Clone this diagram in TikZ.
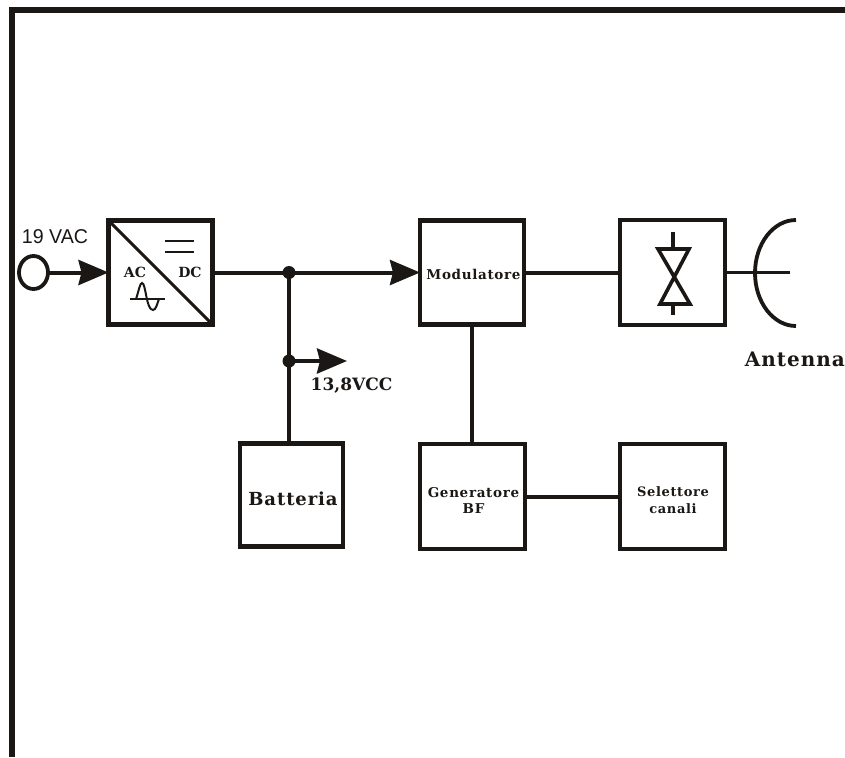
\documentclass[tikz,border=0pt]{standalone}
\usepackage{fontspec}
\setmainfont{DejaVu Serif}
\newfontfamily\wideserif[LetterSpace=5]{DejaVu Serif}
\newfontfamily\tightserif[LetterSpace=0]{DejaVu Serif}
\newfontfamily\plainsans{Liberation Sans}
\usetikzlibrary{arrows.meta,shapes.geometric}
\definecolor{ink}{HTML}{1A1714}
\tikzset{
  blockbox/.style={draw=ink,line width=4.4pt,fill=white,rectangle,inner sep=0pt,outer sep=0pt,minimum width=#1,minimum height=#1,align=center,text=ink},
  wire/.style={draw=ink,line width=4pt},
  arrowwire/.style={wire,-{Stealth[length=30pt,width=25pt,inset=3pt]}},
  dotnode/.style={circle,fill=ink,inner sep=0pt,minimum size=13pt},
  thinline/.style={draw=ink,line width=2pt},
  label/.style={text=ink,inner sep=0pt}
}
\begin{document}
\begin{tikzpicture}[x=1pt,y=-1pt]
\useasboundingbox (0,0) rectangle (845,757);
\fill[white] (0,0) rectangle (845,757);
% frame
\coordinate (frameTop) at (845,10);
\coordinate (frameCorner) at (12.3,10);
\coordinate (frameBottom) at (12.3,757);
\draw[ink,line width=6pt,line join=miter] (frameTop) -- (frameCorner) -- (frameBottom);
% boxes
\node[blockbox=104pt] (acdc) at (160.5,272.5) {};
\node[blockbox=104pt] (mod) at (472,272.5) {};
\node[blockbox=105pt] (filt) at (672.5,272.5) {};
\node[blockbox=103pt] (bat) at (291.5,495) {};
\node[blockbox=105pt] (gen) at (472.5,496.5) {};
\node[blockbox=105pt] (sel) at (672.5,496.5) {};
% box labels
\node[label,font=\wideserif\bfseries\fontsize{13.5}{13}\selectfont] (modl) at (473.5,274) {Modulatore};
\node[label,font=\wideserif\bfseries\fontsize{18}{18}\selectfont] (batl) at (293,498.5) {Batteria};
\node[label,align=center,font=\wideserif\bfseries\fontsize{13.5}{15.5}\selectfont] (genl) at (473.5,500.5) {Generatore\\BF};
\node[label,align=center,font=\wideserif\bfseries\fontsize{13}{17}\selectfont] (sell) at (673,500) {Selettore\\canali};
% source
\node[ellipse,draw=ink,line width=3.8pt,fill=white,minimum width=29pt,minimum height=33pt,inner sep=0pt,outer sep=0pt] (src) at (33.5,272.5) {};
\node[label,font=\plainsans\fontsize{20}{20}\selectfont,xscale=0.98] (vac) at (55,237) {19 VAC};
% AC/DC contents
\draw[ink,line width=3pt] (acdc.north west) -- (acdc.south east);
\node[label,font=\tightserif\bfseries\fontsize{14}{14}\selectfont] (ac) at (135,272) {AC};
\node[label,font=\tightserif\bfseries\fontsize{14}{14}\selectfont] (dc) at (190,272) {DC};
\coordinate (d1) at (165,241); \coordinate (d2) at (194,241);
\coordinate (d3) at (165,252); \coordinate (d4) at (194,252);
\draw[thinline] (d1) -- (d2);
\draw[thinline] (d3) -- (d4);
\coordinate (ax1) at (130,299); \coordinate (ax2) at (165,299);
\draw[thinline] (ax1) -- (ax2);
\draw[thinline] (136,299) .. controls (139,290) and (140,283) .. (142,283)
  .. controls (146,283) and (146,310) .. (153,310)
  .. controls (156,310) and (157,304) .. (159,299);
% connectors
\node[dotnode] (j1) at (289,272.5) {};
\node[dotnode] (j2) at (289,361) {};
\coordinate (vccTip) at (347,361);
\draw[arrowwire] (src.east) -- (acdc.west);
\draw[wire] (acdc.east) -- (j1.center);
\draw[arrowwire] (j1.center) -- (mod.west);
\draw[wire] (j1.center) -- (j2.center);
\draw[wire] (j2.center) -- (j2.center |- bat.north);
\draw[arrowwire] (j2.center) -- (vccTip);
\draw[wire] (mod.east) -- (filt.west);
\draw[wire] (mod.south) -- (mod.south |- gen.north);
\draw[wire] (gen.east) -- (sel.west);
\node[label,font=\tightserif\bfseries\fontsize{17}{17}\selectfont] (vcc) at (351.5,385.5) {13,8VCC};
% filter symbol
\coordinate (fa) at (673,232); \coordinate (fb) at (673,248);
\coordinate (fc) at (673,304); \coordinate (fd) at (673,315);
\draw[ink,line width=4.5pt] (fa) -- (fb);
\draw[ink,line width=4.5pt] (fc) -- (fd);
\draw[ink,line width=3.6pt,line join=miter] (658,249) -- (689,249) -- (660,304) -- (690,304) -- cycle;
% antenna
\coordinate (antTip) at (790,272.5);
\draw[wire,line width=3.4pt] (filt.east) -- (antTip);
\coordinate (antTop) at (796,220);
\draw[ink,line width=3.8pt] (antTop) arc[start angle=-90,end angle=-270,x radius=41pt,y radius=-53pt];
\node[label,font=\wideserif\bfseries\fontsize{20}{20}\selectfont,anchor=east] (antl) at (845,359) {Antenna};
\end{tikzpicture}
\end{document}
